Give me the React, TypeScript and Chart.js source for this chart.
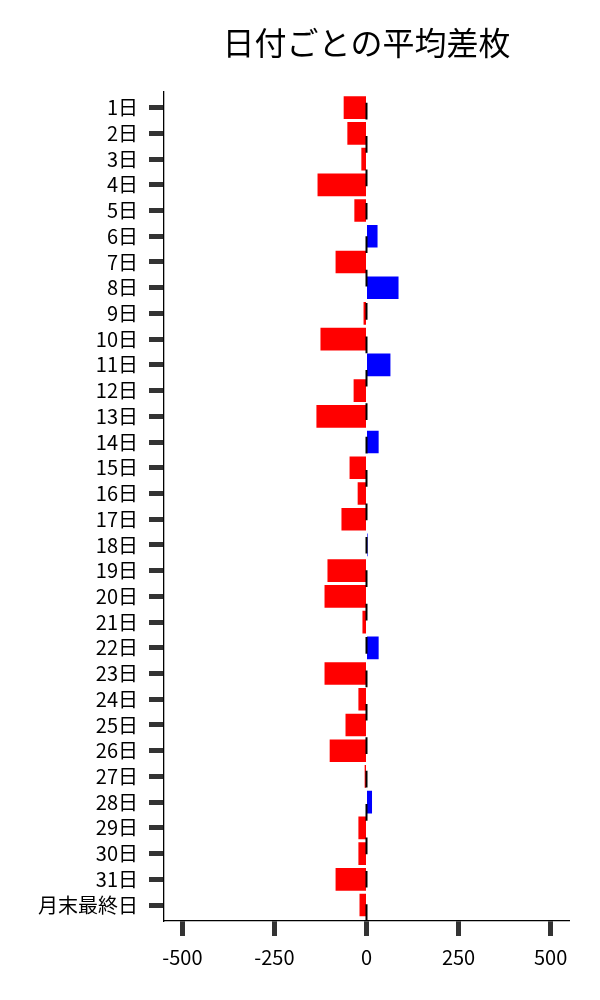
import React, { useEffect, useRef } from 'react';
import { Chart, registerables } from 'chart.js';

Chart.register(...registerables);

const titleText = '日付ごとの平均差枚';

const dayLabels = [
  '1日', '2日', '3日', '4日', '5日', '6日', '7日', '8日', '9日', '10日',
  '11日', '12日', '13日', '14日', '15日', '16日', '17日', '18日', '19日', '20日',
  '21日', '22日', '23日', '24日', '25日', '26日', '27日', '28日', '29日', '30日',
  '31日', '月末最終日',
];

const avgDiff = [
  -62, -52, -14, -133, -33, 30, -84, 87, -8, -125,
  65, -35, -136, 33, -46, -24, -68, 3, -106, -114,
  -11, 33, -114, -22, -57, -100, -5, 15, -22, -22,
  -84, -19,
];

const xTicks = [-500, -250, 0, 250, 500];

const FONT = '"Noto Sans CJK JP", "Noto Sans", sans-serif';

const zeroLinePlugin = {
  id: 'zeroLine',
  afterDatasetsDraw(chart: any) {
    const { ctx, chartArea, scales } = chart;
    const x = scales.x.getPixelForValue(0);
    ctx.save();
    ctx.strokeStyle = '#000';
    ctx.lineWidth = 2;
    ctx.setLineDash([16.7, 16.7]);
    ctx.beginPath();
    ctx.moveTo(x, chartArea.bottom);
    ctx.lineTo(x, chartArea.top);
    ctx.stroke();
    ctx.restore();
  },
};

export default function App() {
  const ref = useRef<HTMLCanvasElement | null>(null);

  useEffect(() => {
    if (!ref.current) return;
    const chart = new Chart(ref.current, {
      type: 'bar',
      data: {
        datasets: [
          {
            data: avgDiff.map((v, i) => ({ x: v, y: i })) as any,
            backgroundColor: avgDiff.map((v) => (v >= 0 ? '#0000ff' : '#ff0000')),
            borderWidth: 0,
            barPercentage: 0.88,
            categoryPercentage: 1,
          },
        ],
      },
      options: {
        indexAxis: 'y',
        animation: false,
        responsive: false,
        devicePixelRatio: 1,
        layout: { padding: { top: 0, right: 31, bottom: 0, left: 0 } },
        plugins: {
          legend: { display: false },
          tooltip: { enabled: false },
          title: {
            display: true,
            text: titleText,
            fullSize: false,
            color: '#000',
            font: { family: FONT, size: 32, weight: 'normal' },
            padding: { top: 24, bottom: 29.3 },
          },
        },
        scales: {
          x: {
            type: 'linear',
            min: -550,
            max: 550,
            afterBuildTicks: (s: any) => {
              s.ticks = xTicks.map((v) => ({ value: v }));
            },
            ticks: {
              includeBounds: false,
              color: '#000',
              padding: 9,
              font: { family: FONT, size: 20 },
            },
            grid: {
              drawOnChartArea: false,
              drawTicks: true,
              tickLength: 15,
              tickWidth: 5,
              tickColor: '#333',
            },
            border: { display: true, color: '#000', width: 1.3 },
            afterFit: (s: any) => {
              s.height = 79;
            },
          } as any,
          y: {
            type: 'linear',
            reverse: true,
            min: -0.62,
            max: 31.62,
            offset: false,
            afterBuildTicks: (s: any) => {
              s.ticks = dayLabels.map((_, i) => ({ value: i }));
            },
            ticks: {
              includeBounds: false,
              autoSkip: false,
              color: '#000',
              padding: 11,
              font: { family: FONT, size: 20 },
              callback: (v: any) => dayLabels[v as number],
            },
            grid: {
              offset: false,
              drawOnChartArea: false,
              drawTicks: true,
              tickLength: 15,
              tickWidth: 5,
              tickColor: '#333',
            },
            border: { display: true, color: '#000', width: 1.3 },
            afterFit: (s: any) => {
              s.width = 164;
            },
          } as any,
        },
      },
      plugins: [zeroLinePlugin],
    });
    return () => chart.destroy();
  }, []);

  return (
    <div style={{ position: 'absolute', left: 0, top: 0, width: 600, height: 1000, background: '#fff' }}>
      <canvas ref={ref} width={600} height={1000} style={{ width: 600, height: 1000, display: 'block' }} />
    </div>
  );
}
